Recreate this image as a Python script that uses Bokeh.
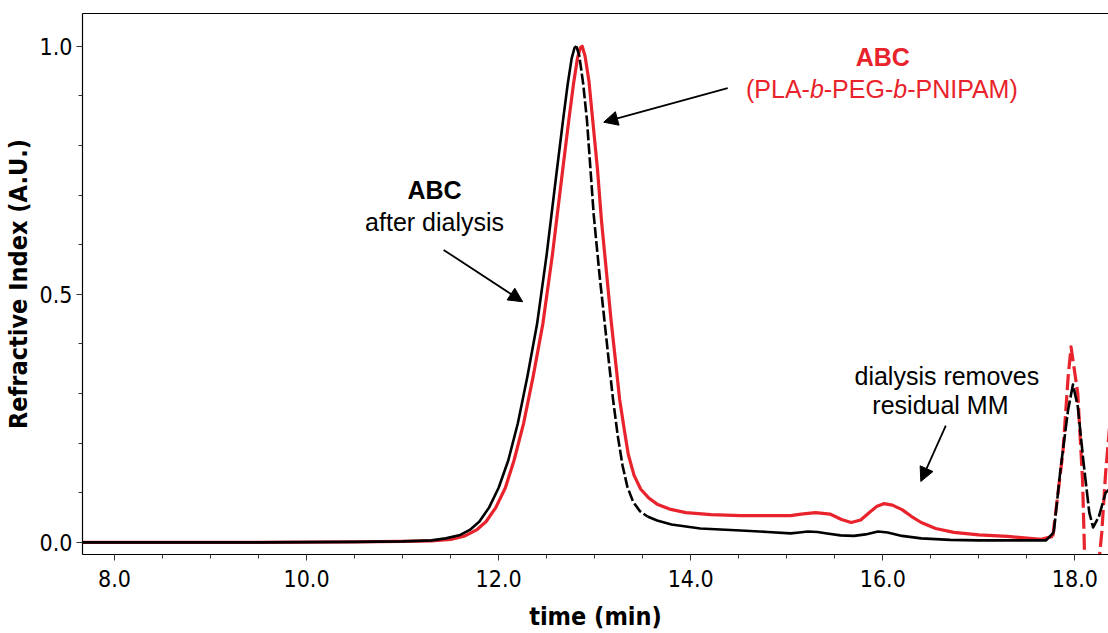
from bokeh.plotting import figure
from bokeh.models import (Range1d, FixedTicker, LinearAxis, Label, Arrow,
                          NormalHead, NumeralTickFormatter)
from bokeh.embed import file_html
from bokeh.resources import INLINE

# ---------------- data ----------------
time_black = [7.67, 8.5, 9.5, 10.5, 11.0, 11.3, 11.45, 11.6, 11.7, 11.8, 11.9, 12.0,
              12.1, 12.2, 12.3, 12.4, 12.5, 12.6, 12.67, 12.72, 12.76, 12.79, 12.81,
              12.84, 12.88, 12.92, 12.99, 13.05, 13.10, 13.15, 13.19, 13.24, 13.29,
              13.34, 13.40, 13.47, 13.55, 13.65, 13.80, 14.10,
              14.52, 14.80, 15.04, 15.13, 15.22, 15.32, 15.42, 15.56, 15.70, 15.82,
              15.95, 16.05, 16.20, 16.40, 16.70,
              17.00, 17.40, 17.70, 17.78, 17.85, 17.93, 17.98, 18.03, 18.09, 18.15,
              18.19, 18.25, 18.32, 18.36]
ri_black = [0.0, 0.0, 0.0, 0.001, 0.002, 0.004, 0.008, 0.015, 0.025, 0.042, 0.070, 0.11,
            0.165, 0.24, 0.335, 0.44, 0.58, 0.74, 0.85, 0.925, 0.975, 0.997, 1.0,
            0.98, 0.925, 0.85, 0.66, 0.54, 0.45, 0.36, 0.29, 0.215, 0.155,
            0.112, 0.082, 0.063, 0.052, 0.044, 0.036, 0.028,
            0.024, 0.021, 0.018, 0.020, 0.022, 0.021, 0.018, 0.014, 0.013, 0.016,
            0.022, 0.020, 0.013, 0.008, 0.005,
            0.004, 0.004, 0.004, 0.02, 0.147, 0.268, 0.318, 0.274, 0.161, 0.06,
            0.03, 0.052, 0.10, 0.107]

time_red = [7.67, 8.5, 9.5, 10.5, 11.0, 11.3, 11.5, 11.65, 11.77, 11.87, 11.97, 12.07,
            12.16, 12.26, 12.36, 12.46, 12.56, 12.66, 12.73, 12.78, 12.82, 12.85, 12.87,
            12.90, 12.94, 12.98, 13.03, 13.07, 13.12, 13.17, 13.22, 13.26, 13.31,
            13.35, 13.41, 13.48, 13.56, 13.65, 13.78, 13.95, 14.21,
            14.52, 14.80, 15.04, 15.15, 15.30, 15.45, 15.57, 15.67, 15.77, 15.86,
            15.94, 16.01, 16.10, 16.20, 16.30, 16.40, 16.55, 16.74,
            17.00, 17.30, 17.65, 17.77, 17.875, 17.93, 17.96, 18.03,
            18.08, 18.10, 18.17, 18.24, 18.28, 18.32, 18.36]
ri_red = [0.0, 0.0, 0.0, 0.001, 0.002, 0.003, 0.006, 0.013, 0.025, 0.042, 0.070, 0.11,
          0.165, 0.24, 0.335, 0.44, 0.58, 0.74, 0.85, 0.925, 0.975, 0.997, 1.0,
          0.98, 0.93, 0.85, 0.75, 0.65, 0.55, 0.449, 0.36, 0.288, 0.225,
          0.177, 0.135, 0.107, 0.090, 0.077, 0.067, 0.060, 0.056,
          0.054, 0.054, 0.054, 0.057, 0.060, 0.057, 0.046, 0.040, 0.045, 0.060,
          0.073, 0.078, 0.075, 0.066, 0.052, 0.040, 0.028, 0.020,
          0.015, 0.012, 0.006, 0.012, 0.181, 0.334, 0.394, 0.30,
          0.125, -0.02, -0.10, -0.06, 0.02, 0.14, 0.23]

x_ticks = [8, 10, 12, 14, 16, 18]
y_ticks = [0.0, 0.5, 1.0]

RED = "#e8232b"
FONT = "Liberation Sans"
TICKFONT = "DejaVu Sans Condensed"

p = figure(width=1108, height=633, output_backend="svg", toolbar_location=None,
           x_range=Range1d(7.667, 18.35), y_range=Range1d(-0.0245, 1.066),
           min_border_left=82, min_border_right=0, min_border_top=13,
           min_border_bottom=78, background_fill_color="white",
           border_fill_color="white")
p.outline_line_color = None
p.grid.visible = False

# axes styling
for ax in (p.xaxis[0], p.yaxis[0]):
    ax.axis_line_color = "black"
    ax.axis_line_width = 1.2
    ax.major_tick_line_color = "#333333"
    ax.minor_tick_line_color = "#333333"
    ax.major_tick_in = 0
    ax.minor_tick_in = 0
    ax.major_tick_out = 6
    ax.minor_tick_out = 4
    ax.major_label_text_font = TICKFONT
    ax.major_label_text_font_size = "23px"
    ax.major_label_text_color = "black"
    ax.axis_label_text_font = TICKFONT
    ax.axis_label_text_font_style = "bold"
    ax.axis_label_text_font_size = "25px"
    ax.axis_label_text_color = "black"
    ax.formatter = NumeralTickFormatter(format="0.0")

p.xaxis[0].ticker = FixedTicker(ticks=x_ticks,
                                minor_ticks=[8 + 0.5 * i for i in range(-1, 22)])
p.yaxis[0].ticker = FixedTicker(ticks=y_ticks,
                                minor_ticks=[round(0.1 * i, 1) for i in range(0, 11)])
p.xaxis[0].axis_label = "time (min)"
p.yaxis[0].axis_label = "Refractive Index (A.U.)"
p.xaxis[0].major_label_standoff = 9
p.xaxis[0].axis_label_standoff = 12
p.yaxis[0].major_label_standoff = 4
p.yaxis[0].axis_label_standoff = 4

# top frame line
top = LinearAxis(ticker=FixedTicker(ticks=[]), major_label_text_font_size="0px",
                 major_tick_out=0, minor_tick_out=0, major_tick_in=0, minor_tick_in=0,
                 major_label_standoff=0, axis_line_color="black", axis_line_width=1.2)
p.add_layout(top, "above")


def piece(t, y, lo, hi):
    xs, ys = [], []
    for a, b in zip(t, y):
        if lo <= a <= hi:
            xs.append(a)
            ys.append(b)
    return xs, ys


# red curve: solid, dashed near 18 min
xs, ys = piece(time_red, ri_red, 0, 17.78)
p.line(xs, ys, line_color=RED, line_width=3.2, line_join="round")
xs, ys = piece(time_red, ri_red, 17.77, 99)
p.line(xs, ys, line_color=RED, line_width=3.2, line_dash="16 5", line_join="round")

# black curve
xs, ys = piece(time_black, ri_black, 0, 12.81)
p.line(xs, ys, line_color="black", line_width=2.6, line_join="round")
xs, ys = piece(time_black, ri_black, 12.81, 13.55)
p.line(xs, ys, line_color="black", line_width=2.6, line_dash="11 3", line_join="round")
xs, ys = piece(time_black, ri_black, 13.55, 17.78)
p.line(xs, ys, line_color="black", line_width=2.6, line_join="round")
xs, ys = piece(time_black, ri_black, 17.78, 99)
p.line(xs, ys, line_color="black", line_width=2.6, line_dash="14 3", line_join="round")

# ---------------- annotations ----------------
FS = 25
def lab(x, y, text, color="black", style="normal", align="center", x_off=0):
    p.add_layout(Label(x=x, y=y, text=text, text_font=FONT, text_font_size=f"{FS}px",
                       text_color=color, text_font_style=style, text_align=align,
                       text_baseline="middle", x_offset=x_off))

lab(16.0, 0.978, "ABC", RED, "bold")
# rich text "(PLA-b-PEG-b-PNIPAM)" with italic b
arial = {"(": .333, ")": .333, "P": .667, "L": .556, "A": .667, "-": .333, "b": .556,
         "E": .667, "G": .778, "N": .722, "I": .278, "M": .833}
parts = [("(PLA-", "normal"), ("b", "italic"), ("-PEG-", "normal"), ("b", "italic"),
         ("-PNIPAM)", "normal")]
widths = [sum(arial[c] for c in s) * FS for s, _ in parts]
total = sum(widths)
off = -total / 2
for (s, st), w in zip(parts, widths):
    lab(16.0, 0.913, s, RED, st, "left", off)
    off += w

lab(11.333, 0.710, "ABC", "black", "bold")
lab(11.333, 0.646, "after dialysis")
lab(16.667, 0.336, "dialysis removes")
lab(16.60, 0.276, "residual MM")

def arrow(x0, y0, x1, y1):
    p.add_layout(Arrow(x_start=x0, y_start=y0, x_end=x1, y_end=y1, line_width=1.8,
                       line_color="black",
                       end=NormalHead(size=14, fill_color="black", line_color="black",
                                      line_width=1)))

arrow(14.385, 0.9155, 13.094, 0.847)
arrow(11.427, 0.5895, 12.25, 0.485)
arrow(16.656, 0.2354, 16.396, 0.1227)

open("out.html", "w").write(file_html(p, INLINE))
